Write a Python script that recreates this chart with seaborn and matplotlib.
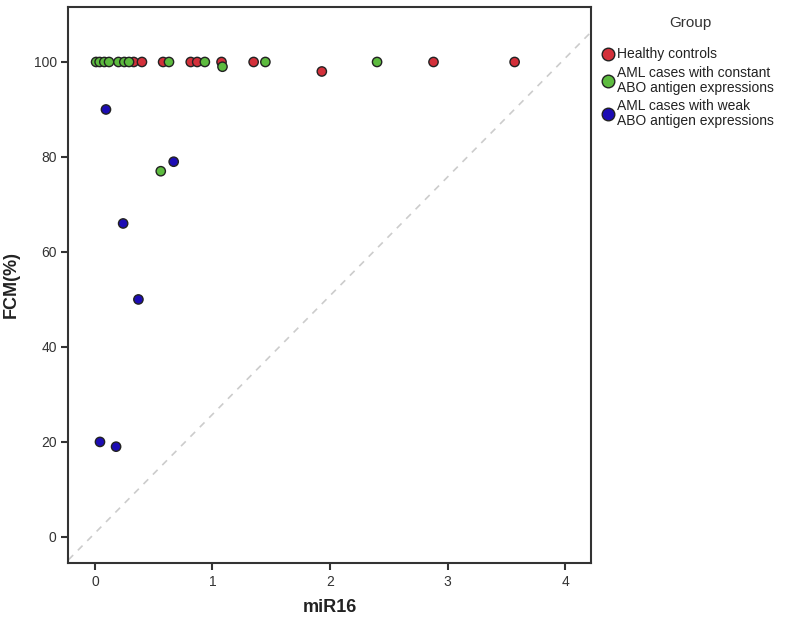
import pandas as pd
import matplotlib
matplotlib.use('Agg')
import matplotlib.pyplot as plt
import seaborn as sns

# valores (miR16 x FCM%)
grupos = ['Healthy controls',
          'AML cases with constant\nABO antigen expressions',
          'AML cases with weak\nABO antigen expressions']

mir16_saudaveis = [0.33, 0.40, 0.58, 0.815, 0.87, 1.077, 1.35, 1.93, 2.88, 3.57]
fcm_saudaveis = [100, 100, 100, 100, 100, 100, 100, 98, 100, 100]

mir16_constante = [0.01, 0.04, 0.08, 0.12, 0.20, 0.25, 0.29, 0.63, 0.935, 1.085, 1.45, 2.40, 0.56]
fcm_constante = [100, 100, 100, 100, 100, 100, 100, 100, 100, 99, 100, 100, 77]

mir16_fraca = [0.094, 0.67, 0.24, 0.37, 0.043, 0.18]
fcm_fraca = [90, 79, 66, 50, 20, 19]

# linha de referencia tracejada
ref_inclinacao = 25
ref_intercepto = 0.8

cores = ['#d3303a', '#5dbb3f', '#1c0cb4']

df = pd.concat([
    pd.DataFrame({'miR16': mir16_saudaveis, 'FCM': fcm_saudaveis, 'Group': grupos[0]}),
    pd.DataFrame({'miR16': mir16_constante, 'FCM': fcm_constante, 'Group': grupos[1]}),
    pd.DataFrame({'miR16': mir16_fraca, 'FCM': fcm_fraca, 'Group': grupos[2]}),
], ignore_index=True)

sns.set_style('ticks')
plt.rcParams['font.family'] = ['Liberation Sans', 'DejaVu Sans']

fig = plt.figure(figsize=(7.87, 6.26), dpi=100)
ax = fig.add_axes([0.087, 0.1006, 0.664, 0.8884])

ax.axline((0, ref_intercepto), slope=ref_inclinacao, color='#cccccc',
          linestyle=(0, (4, 4)), linewidth=1.2, zorder=1)

sns.scatterplot(data=df, x='miR16', y='FCM', hue='Group', hue_order=grupos,
                palette=cores, s=45, edgecolor='#222222', linewidth=1.0,
                ax=ax, zorder=3)

ax.set_xlim(-0.225, 4.22)
ax.set_ylim(-5.5, 111.6)
ax.set_xticks([0, 1, 2, 3, 4])
ax.set_yticks([0, 20, 40, 60, 80, 100])
ax.tick_params(labelsize=10, length=5, width=1.5, color='#333333', labelcolor='#333333')
for s in ax.spines.values():
    s.set_visible(True)
    s.set_linewidth(1.5)
    s.set_color('#333333')

ax.set_xlabel('miR16', fontsize=13, fontweight='bold', labelpad=7, color='#222222')
ax.set_ylabel('FCM(%)', fontsize=13, fontweight='bold', labelpad=10, color='#222222')

# titulo da legenda separado para controlar o espacamento
fig.text(690 / 787, 1 - 23 / 626, 'Group', ha='center', va='center',
         fontsize=11, color='#333333')

leg = ax.legend(loc='upper left', bbox_to_anchor=(1.019, 0.927),
                frameon=False, fontsize=10, markerscale=1.35,
                handlelength=1.0, handletextpad=0.15, labelspacing=0.3,
                borderaxespad=0, borderpad=0)
for h in leg.legend_handles:
    h.set_markeredgecolor('#222222')
for t in leg.get_texts():
    t.set_linespacing(1.1)
    t.set_color('#222222')

fig.savefig('out.png', dpi=100)
